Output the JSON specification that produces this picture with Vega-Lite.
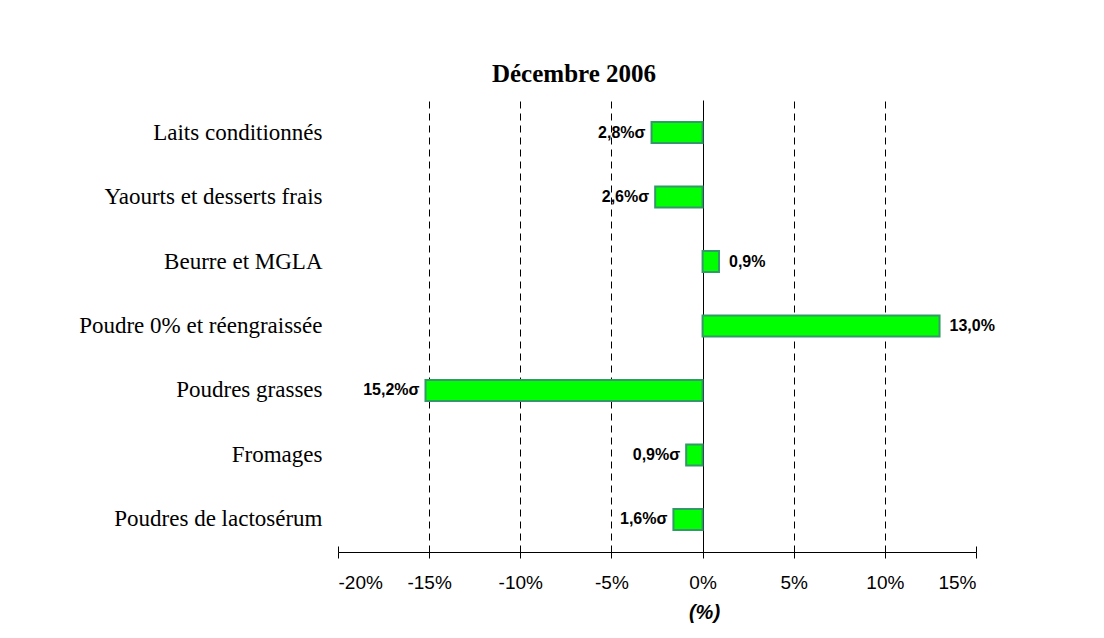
{
  "$schema": "https://vega.github.io/schema/vega-lite/v6.json",
  "width": 638,
  "height": 452,
  "autosize": "none",
  "padding": {"left": 338, "top": 100, "right": 128, "bottom": 86},
  "background": "white",
  "title": {
    "text": "Décembre 2006",
    "font": "Liberation Serif",
    "fontSize": 25,
    "fontWeight": "bold",
    "color": "#000000",
    "anchor": "middle",
    "dx": -83,
    "offset": 13
  },
  "data": {
    "values": [
      {"cat": "Laits conditionnés", "value": -2.8, "label": "2,8%σ"},
      {"cat": "Yaourts et desserts frais", "value": -2.6, "label": "2,6%σ"},
      {"cat": "Beurre et MGLA", "value": 0.9, "label": "0,9%"},
      {"cat": "Poudre 0% et réengraissée", "value": 13.0, "label": "13,0%"},
      {"cat": "Poudres grasses", "value": -15.2, "label": "15,2%σ"},
      {"cat": "Fromages", "value": -0.9, "label": "0,9%σ"},
      {"cat": "Poudres de lactosérum", "value": -1.6, "label": "1,6%σ"}
    ]
  },
  "encoding": {
    "y": {
      "field": "cat",
      "type": "nominal",
      "sort": null,
      "scale": {"paddingInner": 0.674, "paddingOuter": 0.341},
      "axis": {
        "title": null,
        "domain": false,
        "ticks": false,
        "labelFont": "Liberation Serif",
        "labelFontSize": 23,
        "labelColor": "#000000",
        "labelPadding": 16,
        "labelLimit": 400
      }
    }
  },
  "layer": [
    {
      "mark": {"type": "bar", "fill": "#00FF00", "stroke": "#339966", "strokeWidth": 2},
      "encoding": {
        "x": {
          "field": "value",
          "type": "quantitative",
          "scale": {"domain": [-20, 15], "nice": false},
          "axis": {
            "orient": "bottom",
            "values": [-20, -15, -10, -5, 0, 5, 10, 15],
            "labelExpr": "datum.value + '%'",
            "labelFont": "Liberation Sans",
            "labelFontSize": 19,
            "labelColor": "#000000",
            "labelPadding": 15,
            "tickSize": 6,
            "tickColor": "#000000",
            "domainColor": "#000000",
            "grid": true,
            "gridColor": "#000000",
            "gridDash": {"condition": {"test": "datum.value === 0", "value": []}, "value": [7, 5]},
            "gridOpacity": {"condition": {"test": "datum.value === -20 || datum.value === 15", "value": 0}, "value": 1},
            "title": "(%)",
            "titleFont": "Liberation Sans",
            "titleFontSize": 20,
            "titleFontStyle": "italic",
            "titleFontWeight": "bold",
            "titleColor": "#000000",
            "titleX": 366,
            "titlePadding": 10
          }
        }
      }
    },
    {
      "transform": [{"filter": "datum.value < 0"}],
      "mark": {"type": "text", "align": "right", "baseline": "middle", "dx": -6, "font": "Liberation Sans", "fontSize": 16, "fontWeight": "bold", "color": "#000000"},
      "encoding": {
        "x": {
          "field": "value",
          "type": "quantitative",
          "axis": {
            "orient": "bottom",
            "values": [-20, -15, -10, -5, 0, 5, 10, 15],
            "tickSize": -6,
            "tickColor": "#000000",
            "labels": false,
            "domain": false,
            "grid": false,
            "title": null
          }
        },
        "text": {"field": "label"}
      }
    },
    {
      "transform": [{"filter": "datum.value > 0"}],
      "mark": {"type": "text", "align": "left", "baseline": "middle", "dx": 10, "font": "Liberation Sans", "fontSize": 16, "fontWeight": "bold", "color": "#000000"},
      "encoding": {
        "x": {"field": "value", "type": "quantitative", "axis": null},
        "text": {"field": "label"}
      }
    }
  ],
  "resolve": {"axis": {"x": "independent"}},
  "config": {"view": {"stroke": null}}
}
